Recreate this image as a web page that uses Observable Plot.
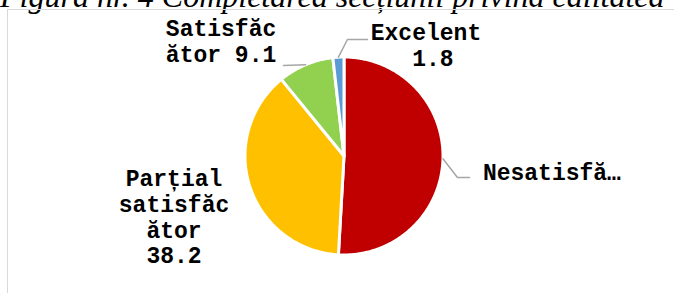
<!DOCTYPE html>
<html>
<head>
<meta charset="utf-8">
<script src="https://cdn.jsdelivr.net/npm/d3@7"></script>
<script src="https://cdn.jsdelivr.net/npm/@observablehq/plot@0.6"></script>
<style>
  html, body { margin: 0; padding: 0; background: #fff; }
  #wrap { position: relative; width: 674px; height: 293px; overflow: hidden; background: #fff; }
  #title { position: absolute; left: 0; top: -20px; white-space: nowrap;
           font-family: "Liberation Serif", "Times New Roman", serif; font-style: italic;
           font-size: 32px; line-height: 32px; color: #000; }
  #frame { position: absolute; left: 7px; top: 9px; width: 700px; height: 320px;
           border: 1px solid #D9D9D9; box-sizing: border-box; }
  #chart { position: absolute; left: 0; top: 0; }
  #chart svg text { white-space: pre; }
</style>
</head>
<body>
<div id="wrap">
  <div id="title">Figura nr. 4 Completarea secțiunii privind calitatea</div>
  <div id="frame"></div>
  <div id="chart"></div>
</div>
<script>
// ---- data ----
const categories = ["Nesatisfăcător", "Parțial satisfăcător", "Satisfăcător", "Excelent"];
const values = [50.9, 38.2, 9.1, 1.8];
const colors = ["#C00000", "#FFC000", "#92D050", "#5B9BD5"];
const labelHeads = ["Nesatisfă…", "Parțial\nsatisfăc\nător\n", "Satisfăc\nător ", "Excelent\n "];
const showValue = [false, true, true, true];

// ---- layout (label placement, in pie-radius units) ----
const labelPos = [[2.10, -0.163], [-1.717, -0.611], [-1.242, 1.161], [0.828, 1.126]];
const leaderBends = [
  [[1.146, -0.217], [1.268, -0.217]],
  null,
  [[-0.611, 0.914]],
  [[0.035, 1.177], [0.237, 1.177]]
];

// ---- geometry from the values ----
const arcs = d3.pie().sort(null).value(d => d)(values);
const slicePts = [];
arcs.forEach((a, i) => {
  slicePts.push({cat: categories[i], x: 0, y: 0});
  const n = Math.max(4, Math.ceil((a.endAngle - a.startAngle) / 0.01));
  for (let k = 0; k <= n; k++) {
    const t = a.startAngle + (a.endAngle - a.startAngle) * k / n;
    slicePts.push({cat: categories[i], x: Math.sin(t), y: Math.cos(t)});
  }
});

const leaderPts = [];
arcs.forEach((a, i) => {
  if (!leaderBends[i]) return;
  const m = (a.startAngle + a.endAngle) / 2;
  leaderPts.push({cat: categories[i], x: Math.sin(m), y: Math.cos(m)});
  leaderBends[i].forEach(p => leaderPts.push({cat: categories[i], x: p[0], y: p[1]}));
});

const labels = categories.map((c, i) => ({
  cat: c,
  x: labelPos[i][0],
  y: labelPos[i][1],
  text: labelHeads[i] + (showValue[i] ? values[i].toFixed(1) : "")
}));

const chart = Plot.plot({
  width: 674,
  height: 293,
  marginLeft: 244.5,
  marginRight: 231.5,
  marginTop: 56.5,
  marginBottom: 38.5,
  x: {domain: [-1, 1], axis: null},
  y: {domain: [-1, 1], axis: null},
  color: {domain: categories, range: colors},
  style: {background: "transparent", overflow: "visible"},
  marks: [
    Plot.line(slicePts, {x: "x", y: "y", z: "cat", fill: "cat", stroke: "#fff",
      strokeWidth: 3, strokeLinejoin: "round", curve: "linear-closed"}),
    Plot.line(leaderPts, {x: "x", y: "y", z: "cat", stroke: "#A6A6A6", strokeWidth: 1.5}),
    Plot.text(labels, {x: "x", y: "y", text: "text", textAnchor: "middle", lineAnchor: "middle",
      lineHeight: 1.12, fontSize: 23, fontWeight: "bold",
      fontFamily: "'Liberation Mono', 'Courier New', monospace", fill: "#000"})
  ]
});
document.getElementById("chart").appendChild(chart);
</script>
</body>
</html>
